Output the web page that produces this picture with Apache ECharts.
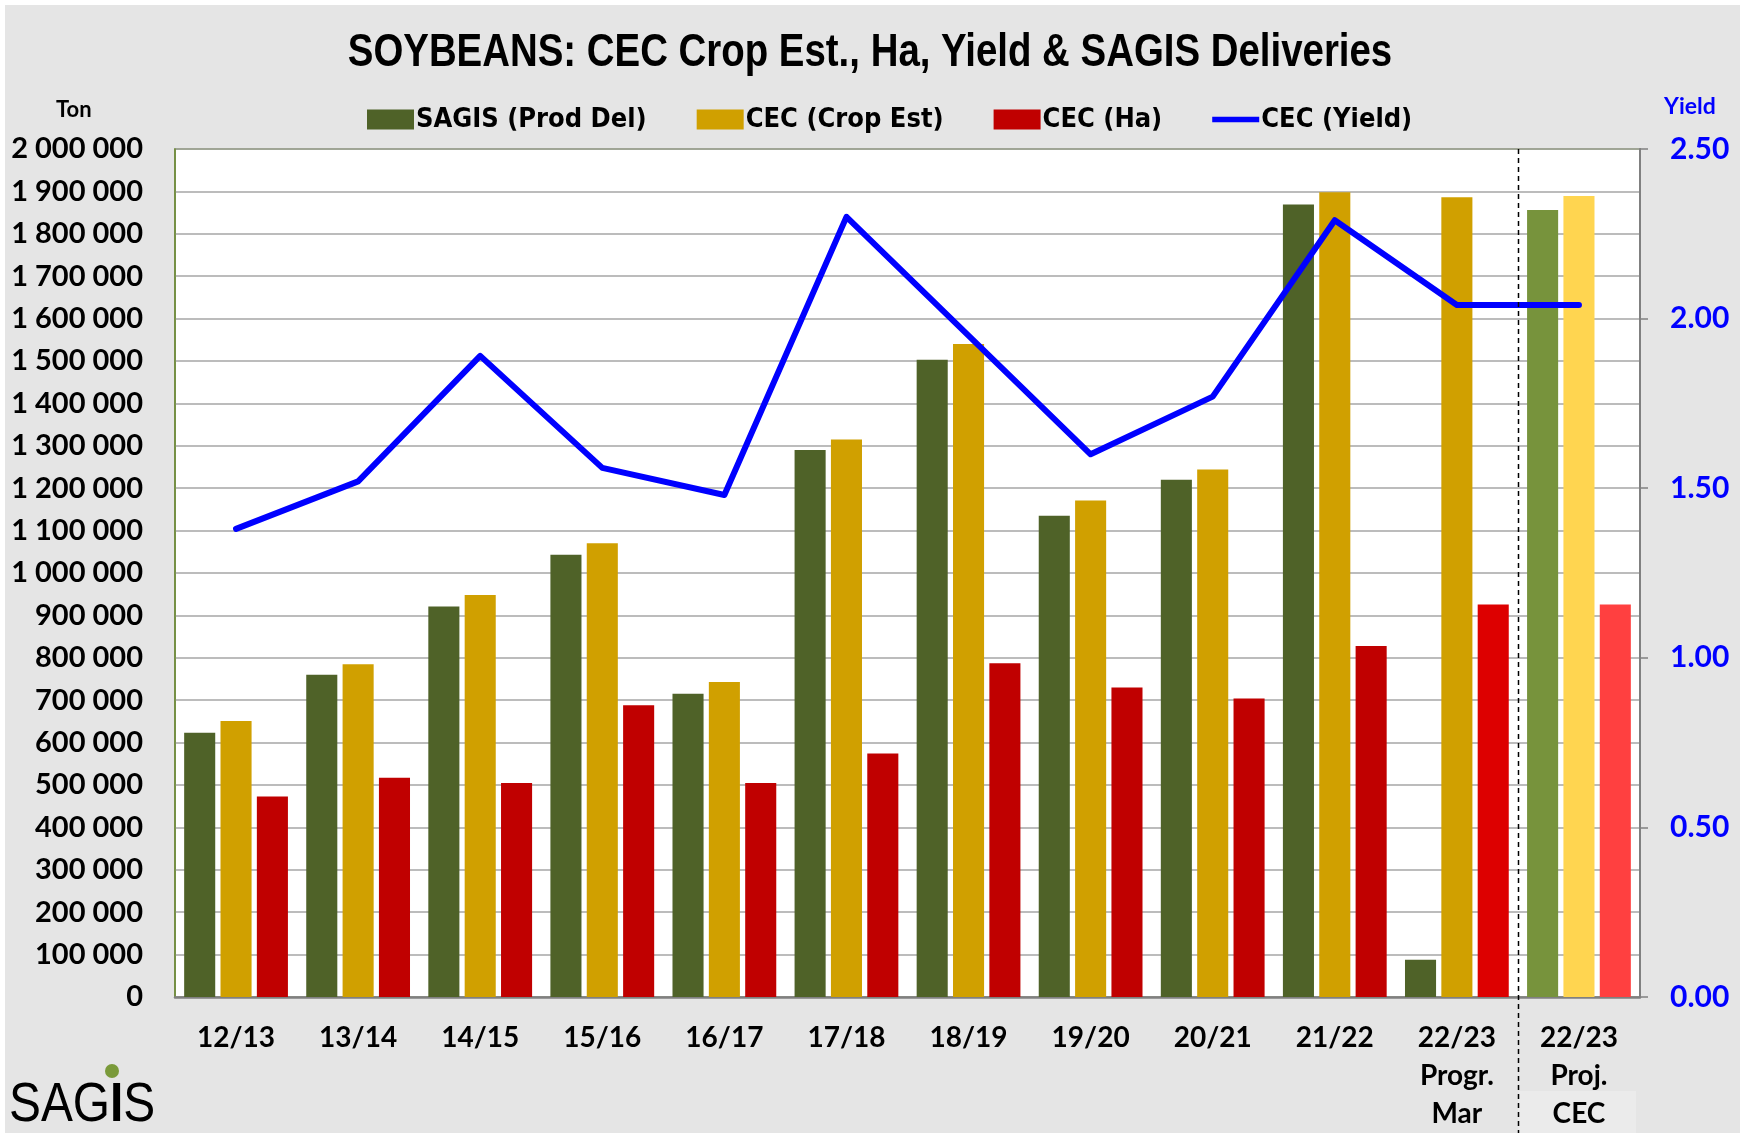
<!DOCTYPE html>
<html>
<head>
<meta charset="utf-8">
<title>Soybeans</title>
<script src="https://cdn.jsdelivr.net/npm/echarts@6/dist/echarts.min.js"></script>
<style>
  html, body { margin: 0; padding: 0; background: #fff; }
  #chart { width: 1746px; height: 1133px; }
</style>
</head>
<body>
<div id="chart"></div>
<script>
// season labels
const categories = ['12/13', '13/14', '14/15', '15/16', '16/17', '17/18', '18/19', '19/20', '20/21', '21/22', '22/23\nProgr.\nMar', '22/23\nProj.\nCEC']

// tons
const sagisDel = [623000, 760000, 921000, 1043000, 715000, 1290000, 1503000, 1135000, 1220000, 1869000, 88000, 1856000]
const cecCrop = [651000, 785000, 948000, 1070000, 743000, 1315000, 1540000, 1171000, 1244000, 1898000, 1886000, 1889000]
const cecHa = [473000, 517000, 505000, 688000, 505000, 574000, 787000, 730000, 704000, 828000, 926000, 926000]
// t/ha
const cecYield = [1.38, 1.52, 1.89, 1.56, 1.48, 2.30, 1.95, 1.60, 1.77, 2.29, 2.04, 2.04]

const seriesNames = ['SAGIS (Prod Del)', 'CEC (Crop Est)', 'CEC (Ha)', 'CEC (Yield)']

const labelFont = 'Lato, "Open Sans", sans-serif'
const condFont = '"DejaVu Sans Condensed", "Liberation Sans", sans-serif'
const arialFont = '"Liberation Sans", Arial, sans-serif'

// last column (projection) uses lighter colours
const withLast = (arr, lastColor, extra) => arr.map((v, i) => {
  if (i === arr.length - 1) return { value: v, itemStyle: { color: lastColor } }
  if (extra && extra[i]) return { value: v, itemStyle: { color: extra[i] } }
  return v
})

const fmtTon = v => String(v).replace(/\B(?=(\d{3})+(?!\d))/g, ' ')

const chart = echarts.init(document.getElementById('chart'))

const option = {
  backgroundColor: '#ffffff',
  animation: false,
  legend: {
    left: 362,
    top: 101,
    itemWidth: 47,
    itemHeight: 20,
    itemGap: 50,
    textStyle: { fontFamily: condFont, fontSize: 27, fontWeight: 'bold', color: '#000', padding: [0, 0, 0, -3] },
    data: [
      { name: seriesNames[0], icon: 'rect' },
      { name: seriesNames[1], icon: 'rect' },
      { name: seriesNames[2], icon: 'rect' },
      { name: seriesNames[3], icon: 'path://M0,0L50,0L50,6L0,6Z' }
    ]
  },
  grid: {
    left: 175,
    right: 106,
    top: 149,
    bottom: 134,
    show: true,
    backgroundColor: '#ffffff',
    borderColor: '#6E8A3A',
    borderWidth: 1.5
  },
  xAxis: {
    type: 'category',
    data: categories,
    axisTick: { show: false },
    axisLine: { lineStyle: { color: '#808080', width: 2.5 } },
    axisLabel: {
      interval: 0,
      margin: 22,
      fontFamily: labelFont,
      fontSize: 28,
      fontWeight: 'bold',
      lineHeight: 38,
      color: '#000'
    }
  },
  yAxis: [
    {
      type: 'value',
      min: 0,
      max: 2000000,
      interval: 100000,
      axisLine: { show: true, lineStyle: { color: '#6E8A3A', width: 1.5 } },
      axisTick: { show: false },
      splitLine: { lineStyle: { color: '#A6A6A6', width: 1.5 } },
      axisLabel: {
        margin: 32,
        fontFamily: labelFont,
        fontSize: 29,
        fontWeight: 'bold',
        color: '#000',
        formatter: fmtTon
      }
    },
    {
      type: 'value',
      min: 0,
      max: 2.5,
      interval: 0.5,
      position: 'right',
      axisLine: { show: true, lineStyle: { color: '#808080', width: 2 } },
      axisTick: { show: true, length: 8, lineStyle: { color: '#808080', width: 1.5 } },
      splitLine: { show: false },
      axisLabel: {
        margin: 30,
        fontFamily: labelFont,
        fontSize: 30,
        fontWeight: 'bold',
        color: '#0000FF',
        formatter: v => v.toFixed(2)
      }
    }
  ],
  series: [
    {
      name: seriesNames[0],
      type: 'bar',
      data: withLast(sagisDel, '#77933C'),
      itemStyle: { color: '#4F6228' },
      barGap: '17%',
      barCategoryGap: '15%'
    },
    {
      name: seriesNames[1],
      type: 'bar',
      data: withLast(cecCrop, '#FFD550'),
      itemStyle: { color: '#D0A000' }
    },
    {
      name: seriesNames[2],
      type: 'bar',
      data: withLast(cecHa, '#FF4040', { 10: '#DD0000' }),
      itemStyle: { color: '#C00000' }
    },
    {
      name: seriesNames[3],
      type: 'line',
      yAxisIndex: 1,
      data: cecYield,
      symbol: 'none',
      z: 5,
      itemStyle: { color: '#0000FF' },
      lineStyle: { color: '#0000FF', width: 6, cap: 'round', join: 'round' }
    }
  ],
  graphic: [
    {
      id: 'frame',
      type: 'rect',
      z: -100,
      shape: { x: 5, y: 5, width: 1735, height: 1128 },
      style: { fill: '#E5E5E5' }
    },
    {
      // narrow bold title: Arial metrics squeezed
      id: 'title',
      type: 'text',
      x: 870,
      y: 53,
      scaleX: 0.835,
      style: {
        text: 'SOYBEANS: CEC Crop Est., Ha, Yield & SAGIS Deliveries',
        align: 'center',
        verticalAlign: 'middle',
        font: 'bold 46px ' + arialFont,
        fill: '#000'
      }
    },
    {
      id: 'ton',
      type: 'text',
      left: 56,
      top: 99,
      style: { text: 'Ton', font: 'bold 22px ' + labelFont, fill: '#000' }
    },
    {
      id: 'yieldName',
      type: 'text',
      left: 1664,
      top: 95,
      style: { text: 'Yield', font: 'bold 23px ' + labelFont, fill: '#0000FF' }
    },
    {
      id: 'logoText',
      type: 'text',
      x: 9,
      y: 1106,
      scaleX: 0.87,
      style: {
        text: '{a|SAG}{b|I}{a|S}',
        verticalAlign: 'middle',
        rich: {
          a: { fontFamily: arialFont, fontSize: 55, color: '#111' },
          b: { fontFamily: arialFont, fontSize: 55, fontWeight: 'bold', color: '#7A9A3A' }
        }
      }
    },
    {
      id: 'logoDot',
      type: 'circle',
      shape: { cx: 112, cy: 1071, r: 7 },
      style: { fill: '#7A9A3A' }
    }
  ]
}

chart.setOption(option)

// dashed separator between the progress and projection columns
const xa = chart.convertToPixel({ xAxisIndex: 0 }, categories[10])
const xb = chart.convertToPixel({ xAxisIndex: 0 }, categories[11])
const sepX = Math.round((xa + xb) / 2) + 0.5
const plotRight = xb + (xb - xa) / 2

chart.setOption({
  graphic: [
    {
      id: 'cecBox',
      type: 'rect',
      z: -50,
      shape: { x: sepX, y: 1091, width: plotRight - sepX - 4, height: 42 },
      style: { fill: '#EBEBEB' }
    },
    {
      id: 'sep',
      type: 'line',
      z: 10,
      shape: { x1: sepX, y1: 149, x2: sepX, y2: 1133 },
      style: { stroke: '#000', lineWidth: 1.5, lineDash: [5, 4] }
    }
  ]
})
</script>
</body>
</html>
